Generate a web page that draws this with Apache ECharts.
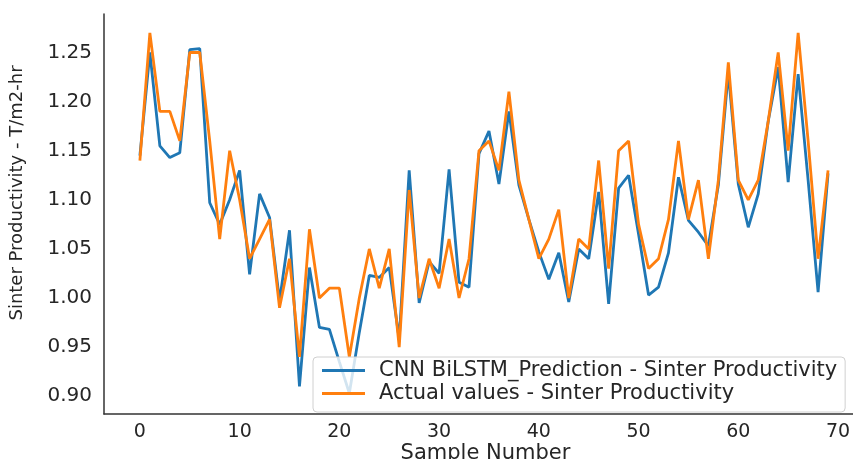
<!DOCTYPE html>
<html>
<head>
<meta charset="utf-8">
<script src="https://cdn.jsdelivr.net/npm/echarts@6/dist/echarts.min.js"></script>
<style>html,body{margin:0;padding:0;background:#fff;}#c{width:853px;height:459px;}</style>
</head>
<body>
<div id="c"></div>
<script>
var sampleNumbers = [];
for (var k = 0; k < 70; k++) sampleNumbers.push(k);

var predicted = [1.145,1.25,1.155,1.143,1.148,1.253,1.254,1.097,1.075,1.10,
  1.13,1.024,1.106,1.082,0.997,1.069,0.91,1.031,0.970,0.968,
  0.935,0.903,0.965,1.023,1.021,1.031,0.958,1.13,0.995,1.037,
  1.025,1.131,1.016,1.011,1.147,1.170,1.116,1.19,1.115,1.08,
  1.047,1.019,1.046,0.996,1.05,1.04,1.108,0.994,1.112,1.125,
  1.065,1.003,1.011,1.046,1.123,1.079,1.067,1.053,1.115,1.23,
  1.116,1.072,1.106,1.18,1.235,1.118,1.228,1.12,1.006,1.127];

var actual = [1.14,1.27,1.19,1.19,1.16,1.25,1.25,1.16,1.06,1.15,
  1.10,1.04,1.06,1.08,0.99,1.04,0.94,1.07,1.00,1.01,
  1.01,0.94,1.00,1.05,1.01,1.05,0.95,1.11,1.00,1.04,
  1.01,1.06,1.00,1.04,1.15,1.16,1.13,1.21,1.12,1.08,
  1.04,1.06,1.09,1.00,1.06,1.05,1.14,1.03,1.15,1.16,
  1.075,1.03,1.04,1.08,1.16,1.08,1.12,1.04,1.12,1.24,
  1.12,1.10,1.12,1.18,1.25,1.15,1.27,1.16,1.04,1.13];

var xTicks = [0,10,20,30,40,50,60,70];
var yTicks = [0.90,0.95,1.00,1.05,1.10,1.15,1.20,1.25];

var seriesNames = ['CNN BiLSTM_Prediction - Sinter Productivity', 'Actual values - Sinter Productivity'];

function pairs(vals) { return sampleNumbers.map(function (x, i) { return [x, vals[i]]; }); }

var chart = echarts.init(document.getElementById('c'), null, {renderer: 'canvas'});
var font = 'DejaVu Sans';
chart.setOption({
  animation: false,
  backgroundColor: '#ffffff',
  grid: {left: 104, right: 0, top: 14, bottom: 45, containLabel: false, outerBoundsMode: 'none'},
  xAxis: {
    type: 'value', min: -3.6, max: 71.5,
    name: 'Sample Number', nameLocation: 'middle', nameGap: 29, nameMoveOverlap: false,
    nameTextStyle: {fontFamily: font, fontSize: 21, color: '#262626', padding: [0, 0, 0, 14]},
    axisLine: {show: true, onZero: false, lineStyle: {color: '#333333', width: 1.5}},
    axisTick: {show: false},
    splitLine: {show: false},
    axisLabel: {customValues: xTicks, fontFamily: font, fontSize: 19, color: '#262626', margin: 9}
  },
  yAxis: {
    type: 'value', min: 0.8819, max: 1.2892,
    name: 'Sinter Productivity - T/m2-hr', nameLocation: 'middle', nameGap: 78, nameMoveOverlap: false,
    nameTextStyle: {fontFamily: font, fontSize: 18, color: '#262626', padding: [0, 0, 0, 42]},
    axisLine: {show: true, onZero: false, lineStyle: {color: '#333333', width: 1.5}},
    axisTick: {show: false},
    splitLine: {show: false},
    axisLabel: {customValues: yTicks, fontFamily: font, fontSize: 20, color: '#262626', margin: 12,
      formatter: function (v) { return v.toFixed(2); }}
  },
  legend: {
    orient: 'vertical', left: 313, top: 357,
    data: seriesNames,
    icon: 'rect', itemWidth: 43, itemHeight: 3, itemGap: 2,
    padding: [3, 8, 8, 9],
    backgroundColor: 'rgba(255,255,255,0.8)',
    borderColor: '#d0d0d0', borderWidth: 1, borderRadius: 4,
    textStyle: {fontFamily: font, fontSize: 21, color: '#262626', lineHeight: 20, padding: [0, 0, 0, 9]}
  },
  series: [
    {name: seriesNames[0], type: 'line', data: pairs(predicted), showSymbol: false, symbol: 'none',
     lineStyle: {color: '#1f77b4', width: 2.8}, itemStyle: {color: '#1f77b4'}, z: 2},
    {name: seriesNames[1], type: 'line', data: pairs(actual), showSymbol: false, symbol: 'none',
     lineStyle: {color: '#ff7f0e', width: 2.8}, itemStyle: {color: '#ff7f0e'}, z: 3}
  ]
});
</script>
</body>
</html>
